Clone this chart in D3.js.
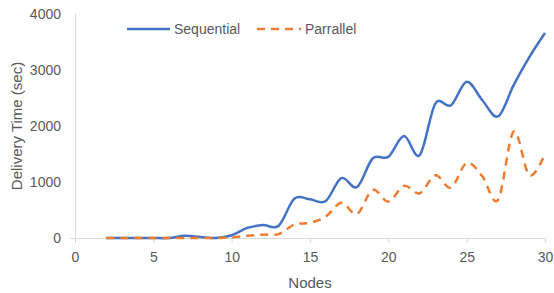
<!DOCTYPE html>
<html>
<head>
<meta charset="utf-8">
<script src="https://cdn.jsdelivr.net/npm/d3@7"></script>
<style>
    body { margin: 0; background: #fff; }
    text { font-family: "Liberation Sans", Arial, sans-serif; fill: #595959; }
</style>
</head>
<body>
<svg id="chart" width="554" height="293"></svg>
<script>
// Values
var nodes = [2, 3, 4, 5, 6, 7, 8, 9, 10, 11, 12, 13, 14, 15, 16,
             17, 18, 19, 20, 21, 22, 23, 24, 25, 26, 27, 28, 29, 30];
var sequential = [0, 0, 0, 0, 0, 40, 20, 0, 50, 180, 230, 220, 700, 690, 660,
                  1070, 910, 1420, 1450, 1820, 1480, 2400, 2370, 2790, 2460, 2170, 2730, 3230, 3660];
var parallel = [0, 0, 0, 0, 0, 0, 0, 0, 10, 40, 60, 70, 240, 270, 380,
                630, 430, 860, 650, 930, 800, 1120, 900, 1340, 1100, 680, 1900, 1120, 1500];
var xTicks = [0, 5, 10, 15, 20, 25, 30];
var yTicks = [0, 1000, 2000, 3000, 4000];
var seriesNames = ['Sequential', 'Parrallel'];

// plot area (px)
var plotLeft = 75, plotRight = 545, plotTop = 14, plotBottom = 238;

var svg = d3.select('#chart');

var x = d3.scaleLinear().domain([0, 30]).range([plotLeft, plotRight]);
var y = d3.scaleLinear().domain([0, 4000]).range([plotBottom, plotTop]);

// y axis line (no ticks)
svg.append('line')
    .attr('x1', plotLeft + 0.5).attr('x2', plotLeft + 0.5)
    .attr('y1', plotTop).attr('y2', plotBottom)
    .attr('stroke', '#d9d9d9').attr('stroke-width', 1);

// y tick labels
svg.append('g').selectAll('text')
    .data(yTicks)
    .join('text')
    .attr('x', plotLeft - 14)
    .attr('y', function(d) { return y(d) + 5; })
    .attr('text-anchor', 'end')
    .style('font-size', '14px')
    .text(function(d) { return d; });

// x axis
var xAxis = d3.axisBottom(x).tickValues(xTicks).tickSize(5).tickSizeOuter(0);
var gx = svg.append('g')
    .attr('transform', 'translate(0,' + plotBottom + ')')
    .call(xAxis);
gx.select('.domain').attr('stroke', '#d9d9d9').attr('d', 'M' + (plotLeft - 5) + ',0.5H' + plotRight);
gx.selectAll('.tick line').attr('stroke', '#d9d9d9');
gx.selectAll('.tick text')
    .attr('y', 14)
    .attr('fill', '#595959')
    .style('font-size', '14px')
    .style('font-family', '"Liberation Sans", Arial, sans-serif');

// axis titles
svg.append('text')
    .attr('x', (plotLeft + plotRight) / 2)
    .attr('y', 288)
    .attr('text-anchor', 'middle')
    .style('font-size', '15px')
    .text('Nodes');

svg.append('text')
    .attr('transform', 'translate(22,' + 126 + ') rotate(-90)')
    .attr('text-anchor', 'middle')
    .style('font-size', '15px')
    .text('Delivery Time (sec)');

// lines
var line = d3.line()
    .x(function(d) { return x(d[0]); })
    .y(function(d) { return y(d[1]); })
    .curve(d3.curveCatmullRom.alpha(0));

svg.append('path')
    .datum(d3.zip(nodes, sequential))
    .attr('fill', 'none')
    .attr('stroke', '#4472C4')
    .attr('stroke-width', 2.5)
    .attr('stroke-linejoin', 'round')
    .attr('d', line);

svg.append('path')
    .datum(d3.zip(nodes, parallel))
    .attr('fill', 'none')
    .attr('stroke', '#ED7D31')
    .attr('stroke-width', 2.5)
    .attr('stroke-dasharray', '8,6')
    .attr('d', line);

// legend
var legend = svg.append('g');
legend.append('line')
    .attr('x1', 127).attr('x2', 170).attr('y1', 29).attr('y2', 29)
    .attr('stroke', '#4472C4').attr('stroke-width', 2.5);
legend.append('text')
    .attr('x', 174).attr('y', 34)
    .style('font-size', '14px')
    .text(seriesNames[0]);
legend.append('line')
    .attr('x1', 257).attr('x2', 301).attr('y1', 29).attr('y2', 29)
    .attr('stroke', '#ED7D31').attr('stroke-width', 2.5)
    .attr('stroke-dasharray', '8,6');
legend.append('text')
    .attr('x', 305).attr('y', 34)
    .style('font-size', '14px')
    .text(seriesNames[1]);
</script>
</body>
</html>
